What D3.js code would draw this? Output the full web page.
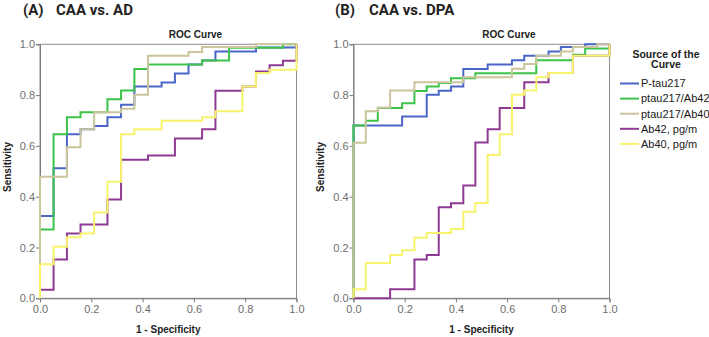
<!DOCTYPE html>
<html>
<head>
<meta charset="utf-8">
<script src="https://cdn.jsdelivr.net/npm/d3@7"></script>
<style>
  body { margin: 0; background: #fff; }
  text { font-family: "Liberation Sans", Arial, sans-serif; }
</style>
</head>
<body>
<svg id="chart"></svg>
<script>
// legend / series
const seriesNames = ["P-tau217", "ptau217/Ab42", "ptau217/Ab40", "Ab42, pg/m", "Ab40, pg/m"];
const seriesColors = ["#4a66c8", "#3cc34a", "#cbc59c", "#8e3a92", "#f7f36c"];
const tickValues = [0, 0.2, 0.4, 0.6, 0.8, 1.0];

// panel A: CAA vs. AD, points are [1 - specificity, sensitivity] corners of the step curve
const aPtau217 = [[0, 0], [0, 0.324], [0.053, 0.512], [0.105, 0.646], [0.158, 0.666], [0.211, 0.678],
  [0.263, 0.713], [0.316, 0.762], [0.368, 0.834], [0.474, 0.85], [0.526, 0.885], [0.579, 0.92],
  [0.632, 0.936], [0.684, 0.972], [0.842, 0.987], [1, 1]];
const aPtau217Ab42 = [[0, 0], [0, 0.271], [0.053, 0.646], [0.105, 0.713], [0.158, 0.732], [0.263, 0.784],
  [0.316, 0.818], [0.368, 0.903], [0.421, 0.92], [0.632, 0.936], [0.737, 0.986], [0.947, 1], [1, 1]];
const aPtau217Ab40 = [[0, 0], [0, 0.479], [0.105, 0.595], [0.158, 0.666], [0.211, 0.732], [0.316, 0.746],
  [0.368, 0.801], [0.421, 0.955], [0.579, 0.97], [0.632, 0.989], [0.842, 1], [1, 1]];
const aAb42 = [[0, 0], [0, 0.034], [0.053, 0.153], [0.105, 0.255], [0.158, 0.291], [0.263, 0.389],
  [0.316, 0.545], [0.421, 0.562], [0.526, 0.629], [0.632, 0.666], [0.684, 0.817], [0.789, 0.834],
  [0.842, 0.893], [0.895, 0.918], [0.947, 0.935], [1, 1]];
const aAb40 = [[0, 0], [0, 0.134], [0.053, 0.203], [0.105, 0.24], [0.158, 0.255], [0.211, 0.338],
  [0.263, 0.459], [0.316, 0.646], [0.368, 0.666], [0.474, 0.699], [0.632, 0.713], [0.684, 0.736],
  [0.789, 0.834], [0.842, 0.887], [0.895, 0.9], [1, 1]];

// panel B: CAA vs. DPA
const bPtau217 = [[0, 0], [0, 0.68], [0.19, 0.716], [0.286, 0.801], [0.333, 0.817], [0.381, 0.834],
  [0.429, 0.903], [0.524, 0.92], [0.619, 0.937], [0.667, 0.955], [0.762, 0.972], [0.81, 0.989],
  [0.905, 1], [1, 1]];
const bPtau217Ab42 = [[0, 0], [0, 0.68], [0.048, 0.699], [0.095, 0.749], [0.19, 0.768], [0.238, 0.816],
  [0.286, 0.834], [0.333, 0.848], [0.381, 0.866], [0.476, 0.886], [0.714, 0.937], [0.857, 0.959],
  [0.905, 0.983], [1, 1]];
const bPtau217Ab40 = [[0, 0], [0, 0.612], [0.048, 0.736], [0.095, 0.751], [0.143, 0.818], [0.238, 0.851],
  [0.429, 0.87], [0.619, 0.904], [0.667, 0.922], [0.714, 0.955], [0.81, 0.972], [0.857, 0.989],
  [0.952, 1], [1, 1]];
const bAb42 = [[0, 0], [0.143, 0.036], [0.238, 0.153], [0.286, 0.17], [0.333, 0.358], [0.381, 0.374],
  [0.429, 0.444], [0.476, 0.613], [0.524, 0.666], [0.571, 0.749], [0.667, 0.851], [0.762, 0.887],
  [0.857, 0.955], [1, 1]];
const bAb40 = [[0, 0], [0, 0.036], [0.048, 0.139], [0.143, 0.17], [0.19, 0.189], [0.238, 0.238],
  [0.286, 0.257], [0.381, 0.273], [0.429, 0.341], [0.476, 0.375], [0.524, 0.564], [0.571, 0.646],
  [0.619, 0.801], [0.667, 0.818], [0.714, 0.87], [0.762, 0.887], [0.857, 0.955], [1, 1]];

const panelLetters = ["(A)", "(B)"];
const panelTitles = ["CAA vs. AD", "CAA vs. DPA"];

const width = 709, height = 337;
const svg = d3.select("#chart").attr("width", width).attr("height", height);

const panels = [
  { left: 40, right: 296.5, letterX: 23, titleX: 56, rocX: 195.5, labelX: 7,
    curves: [aPtau217, aPtau217Ab42, aPtau217Ab40, aAb42, aAb40] },
  { left: 353.5, right: 609.5, letterX: 335, titleX: 369, rocX: 509, labelX: 320,
    curves: [bPtau217, bPtau217Ab42, bPtau217Ab40, bAb42, bAb40] }
];
const plotTop = 44.3, plotBottom = 298.3;

panels.forEach((p, i) => {
  const x = d3.scaleLinear().domain([0, 1]).range([p.left, p.right]);
  const y = d3.scaleLinear().domain([0, 1]).range([plotBottom, plotTop]);

  // panel heading
  svg.append("text").attr("x", p.letterX).attr("y", 14.5)
    .style("font-family", "Roboto, sans-serif").style("font-weight", "bold").style("font-size", "15px")
    .attr("fill", "#222").text(panelLetters[i]);
  svg.append("text").attr("x", p.titleX).attr("y", 14.5)
    .style("font-family", "Roboto, sans-serif").style("font-weight", "bold").style("font-size", "15px")
    .attr("fill", "#222").text(panelTitles[i]);

  svg.append("text").attr("x", p.rocX).attr("y", 38).attr("text-anchor", "middle")
    .style("font-weight", "bold").style("font-size", "10px").attr("fill", "#222").text("ROC Curve");

  // frame
  svg.append("rect")
    .attr("x", p.left).attr("y", plotTop)
    .attr("width", p.right - p.left).attr("height", plotBottom - plotTop)
    .attr("fill", "none").attr("stroke", "#8c8c8c").attr("stroke-width", 1);

  const xAxis = svg.append("g").attr("transform", `translate(0,${plotBottom})`)
    .call(d3.axisBottom(x).tickValues(tickValues).tickFormat(d3.format(".1f")).tickSize(4).tickPadding(3));
  const yAxis = svg.append("g").attr("transform", `translate(${p.left},0)`)
    .call(d3.axisLeft(y).tickValues(tickValues).tickFormat(d3.format(".1f")).tickSize(4).tickPadding(1));
  [xAxis, yAxis].forEach(a => {
    a.select(".domain").attr("stroke", "#7a7a7a");
    a.selectAll(".tick line").attr("stroke", "#7a7a7a");
    a.selectAll(".tick text").attr("fill", "#6e6e6e")
      .style("font-family", "'Liberation Sans', Arial, sans-serif").style("font-size", "11px");
  });

  svg.append("text")
    .attr("x", (p.left + p.right) / 2).attr("y", 333)
    .attr("text-anchor", "middle").style("font-weight", "bold").style("font-size", "10px")
    .attr("fill", "#222").text("1 - Specificity");
  svg.append("text")
    .attr("transform", `translate(${p.labelX},167) rotate(-90)`)
    .attr("text-anchor", "middle").attr("dominant-baseline", "central")
    .style("font-weight", "bold").style("font-size", "10px")
    .attr("fill", "#222").text("Sensitivity");

  const line = d3.line()
    .x(d => x(d[0]))
    .y(d => y(d[1]))
    .curve(d3.curveStepAfter);

  svg.append("g").selectAll("path")
    .data(p.curves)
    .join("path")
    .attr("d", line)
    .attr("fill", "none")
    .attr("stroke", (d, k) => seriesColors[k])
    .attr("stroke-width", 2);
});

// legend
const legend = svg.append("g");
legend.append("text").attr("x", 666).attr("y", 57.5).attr("text-anchor", "middle")
  .style("font-weight", "bold").style("font-size", "10.5px").attr("fill", "#222").text("Source of the");
legend.append("text").attr("x", 666).attr("y", 68).attr("text-anchor", "middle")
  .style("font-weight", "bold").style("font-size", "10.5px").attr("fill", "#222").text("Curve");

const items = legend.selectAll("g.item")
  .data(seriesNames)
  .join("g")
  .attr("class", "item")
  .attr("transform", (d, k) => `translate(620,${83.5 + k * 15.1})`);
items.append("line").attr("x1", 0).attr("x2", 19)
  .attr("stroke", (d, k) => seriesColors[k]).attr("stroke-width", 2);
items.append("text").attr("x", 21).attr("dy", "0.35em")
  .style("font-size", "11px").attr("fill", "#1a1a1a").text(d => d);
</script>
</body>
</html>
